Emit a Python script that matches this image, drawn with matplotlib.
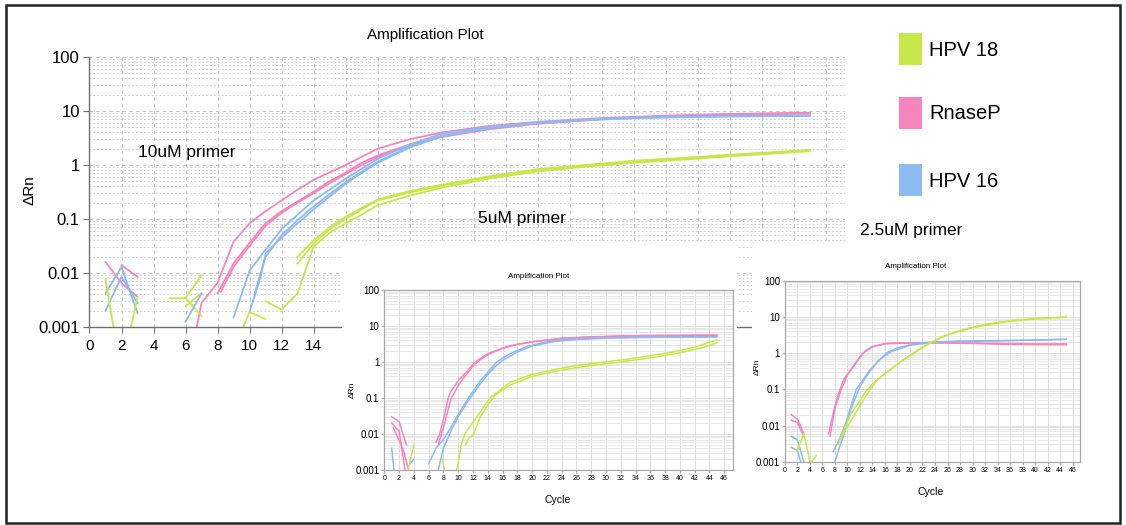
import matplotlib
matplotlib.use("Agg")
import matplotlib.pyplot as plt
from matplotlib.patches import Rectangle
from matplotlib.ticker import FixedLocator, FixedFormatter, LogLocator, NullFormatter

plt.rcParams['font.family'] = ['Liberation Sans', 'DejaVu Sans']

W, H = 1126, 525

GREEN = '#c8e64c'
PINK = '#f785bd'
BLUE = '#8dbaf0'

# ---------------- 10uM primer (large panel) ----------------
rnasep_10_a_cycle = [6.7, 7, 8, 9, 10, 11, 12, 13, 14, 16, 18, 20, 22, 25, 28, 32, 36, 40, 45]
rnasep_10_a_value = [0.001, 0.0028, 0.0066, 0.038, 0.083, 0.14, 0.22, 0.35, 0.53, 1.0, 2.0, 3.0, 4.0, 5.3, 6.3, 7.4, 8.2, 8.8, 9.3]
rnasep_10_b_cycle = [8, 9, 10, 11, 12, 13, 14, 15, 16, 17, 18, 20, 22, 25, 28, 32, 36, 40, 45]
rnasep_10_b_value = [0.0042, 0.015, 0.036, 0.083, 0.14, 0.21, 0.32, 0.5, 0.72, 1.1, 1.5, 2.4, 3.4, 4.8, 5.9, 7.1, 8.0, 8.7, 9.2]
rnasep_10_c_cycle = [8.2, 9, 10, 11, 12, 13, 14, 15, 16, 17, 18, 20, 22, 25, 28, 32, 36, 40, 45]
rnasep_10_c_value = [0.0045, 0.013, 0.032, 0.075, 0.13, 0.2, 0.3, 0.46, 0.68, 1.0, 1.4, 2.3, 3.3, 4.6, 5.8, 7.0, 7.9, 8.5, 9.0]

hpv16_10_a_cycle = [9, 10, 11, 12, 13, 14, 15, 16, 17, 18, 20, 22, 25, 28, 32, 36, 40, 45]
hpv16_10_a_value = [0.0015, 0.011, 0.027, 0.065, 0.12, 0.22, 0.35, 0.56, 0.85, 1.3, 2.4, 3.8, 5.1, 6.2, 7.2, 7.8, 8.1, 8.3]
hpv16_10_b_cycle = [10, 10.7, 11, 12, 13, 14, 15, 16, 17, 18, 20, 22, 25, 28, 32, 36, 40, 45]
hpv16_10_b_value = [0.0019, 0.0086, 0.023, 0.045, 0.083, 0.15, 0.26, 0.45, 0.71, 1.1, 2.1, 3.4, 4.8, 6.0, 7.0, 7.6, 7.9, 8.1]
hpv16_10_c_cycle = [10.3, 11, 12, 13, 14, 15, 16, 17, 18, 20, 22, 25, 28, 32, 36, 40, 45]
hpv16_10_c_value = [0.004, 0.02, 0.05, 0.095, 0.17, 0.29, 0.48, 0.75, 1.15, 2.2, 3.5, 4.9, 6.1, 7.1, 7.7, 8.0, 8.2]

hpv18_10_a_cycle = [13, 14, 15, 16, 17, 18, 20, 22, 25, 28, 31, 34, 37, 40, 43, 45]
hpv18_10_a_value = [0.015, 0.035, 0.065, 0.1, 0.15, 0.22, 0.31, 0.41, 0.6, 0.81, 0.98, 1.15, 1.3, 1.5, 1.7, 1.85]
hpv18_10_b_cycle = [11, 12, 13, 14, 15, 16, 17, 18, 20, 22, 25, 28, 31, 34, 37, 40, 43, 45]
hpv18_10_b_value = [0.003, 0.0021, 0.0042, 0.031, 0.055, 0.083, 0.12, 0.18, 0.27, 0.38, 0.56, 0.76, 0.93, 1.1, 1.25, 1.45, 1.65, 1.8]
hpv18_10_c_cycle = [13, 14, 15, 16, 17, 18, 20, 22, 25, 28, 31, 34, 37, 40, 43, 45]
hpv18_10_c_value = [0.02, 0.04, 0.07, 0.11, 0.16, 0.23, 0.33, 0.43, 0.62, 0.84, 1.0, 1.2, 1.35, 1.55, 1.75, 1.9]

# baseline noise fragments (cycle, value, target)
noise_10 = [
    ([1, 2, 3], [0.016, 0.0065, 0.0036], 'RnaseP'),
    ([2, 3], [0.014, 0.0085], 'RnaseP'),
    ([1, 2, 3], [0.0042, 0.013, 0.0018], 'HPV 16'),
    ([1, 2, 3], [0.002, 0.0085, 0.0028], 'HPV 16'),
    ([1, 1.5], [0.0074, 0.001], 'HPV 18'),
    ([2.6, 3], [0.001, 0.0036], 'HPV 18'),
    ([5, 6, 7], [0.0034, 0.0034, 0.0091], 'HPV 18'),
    ([6, 7], [0.0024, 0.0042], 'HPV 18'),
    ([6, 7], [0.0035, 0.0016], 'HPV 18'),
    ([6, 7], [0.00126, 0.0042], 'HPV 16'),
    ([9.6, 10, 11], [0.001, 0.0019, 0.0014], 'HPV 18'),
]

# ---------------- 5uM primer ----------------
rnasep_5_a_cycle = [7, 7.5, 8, 8.65, 9, 10, 11, 12.3, 14, 16.6, 18, 20.6, 24.7, 28, 32, 36, 40, 45]
rnasep_5_a_value = [0.006, 0.01, 0.025, 0.1, 0.15, 0.3, 0.5, 1.0, 1.7, 2.7, 3.1, 3.8, 4.7, 5.0, 5.3, 5.4, 5.5, 5.6]
rnasep_5_b_cycle = [7.3, 8, 9, 10, 11, 12, 13, 14, 16, 18, 20, 24, 28, 32, 36, 40, 45]
rnasep_5_b_value = [0.005, 0.015, 0.09, 0.22, 0.42, 0.78, 1.15, 1.6, 2.4, 3.1, 3.6, 4.5, 4.9, 5.2, 5.3, 5.4, 5.5]

hpv16_5_a_cycle = [6, 7, 8, 8.45, 9, 10, 11.4, 13, 15.2, 17, 19.3, 22.4, 25, 28, 32, 36, 40, 45]
hpv16_5_a_value = [0.0015, 0.004, 0.007, 0.01, 0.015, 0.035, 0.1, 0.3, 1.0, 1.7, 2.7, 3.8, 4.3, 4.6, 4.8, 4.9, 5.0, 5.0]
hpv16_5_b_cycle = [7.3, 8, 9, 10, 11, 12, 13, 14, 15, 16, 18, 20, 23, 26, 30, 35, 40, 45]
hpv16_5_b_value = [0.001, 0.004, 0.012, 0.03, 0.065, 0.13, 0.25, 0.45, 0.75, 1.1, 1.9, 2.8, 3.7, 4.2, 4.6, 4.8, 4.9, 5.0]

hpv18_5_a_cycle = [9.8, 10.5, 10.9, 12.3, 14.3, 17, 20.1, 24.2, 27, 30.1, 33, 36, 39.1, 42, 45]
hpv18_5_a_value = [0.001, 0.006, 0.01, 0.026, 0.1, 0.27, 0.46, 0.69, 0.85, 1.02, 1.2, 1.5, 1.9, 2.6, 4.1]
hpv18_5_b_cycle = [11, 11.5, 12, 13, 14, 15, 17, 20, 24, 28, 32, 36, 40, 43, 45]
hpv18_5_b_value = [0.005, 0.008, 0.009, 0.03, 0.065, 0.12, 0.23, 0.4, 0.6, 0.8, 1.0, 1.3, 1.8, 2.5, 3.4]

noise_5 = [
    ([1, 2, 3], [0.03, 0.022, 0.005], 'RnaseP'),
    ([1, 2, 2.8], [0.02, 0.012, 0.001], 'RnaseP'),
    ([1.2, 2.5, 3.3], [0.015, 0.004, 0.001], 'RnaseP'),
    ([1, 1.3], [0.004, 0.001], 'HPV 16'),
    ([3.5, 4], [0.0015, 0.002], 'HPV 16'),
    ([3.2, 4], [0.001, 0.005], 'HPV 18'),
    ([7.9, 8.1], [0.002, 0.001], 'HPV 18'),
]

# ---------------- 2.5uM primer ----------------
rnasep_25_a_cycle = [7, 7.5, 8, 8.8, 9.5, 10.9, 12.5, 14, 16.2, 20, 25, 30, 35, 40, 45]
rnasep_25_a_value = [0.006, 0.015, 0.035, 0.1, 0.2, 0.42, 1.0, 1.5, 1.87, 1.95, 1.95, 1.9, 1.85, 1.8, 1.8]
rnasep_25_b_cycle = [7.2, 8, 9, 10, 11, 12, 13, 14, 16, 20, 25, 30, 35, 40, 45]
rnasep_25_b_value = [0.005, 0.03, 0.1, 0.25, 0.45, 0.8, 1.2, 1.5, 1.8, 1.9, 1.9, 1.85, 1.75, 1.7, 1.7]

hpv16_25_a_cycle = [7.7, 8.5, 9.6, 11.4, 13.6, 16.2, 18, 21, 24, 28, 32, 36, 40, 45]
hpv16_25_a_value = [0.0019, 0.0035, 0.01, 0.1, 0.34, 1.0, 1.4, 1.87, 2.05, 2.15, 2.2, 2.25, 2.3, 2.4]
hpv16_25_b_cycle = [8, 8.7, 9.5, 10, 11, 12, 13.5, 15, 17, 20, 24, 28, 32, 36, 40, 45]
hpv16_25_b_value = [0.001, 0.0025, 0.006, 0.015, 0.045, 0.12, 0.3, 0.65, 1.1, 1.65, 2.0, 2.1, 2.15, 2.2, 2.3, 2.4]

hpv18_25_a_cycle = [9, 10.1, 11, 12, 13.6, 15, 16.7, 18.5, 20.5, 23.1, 25.5, 28.4, 32, 36.4, 40, 45]
hpv18_25_a_value = [0.0049, 0.01, 0.018, 0.035, 0.1, 0.2, 0.34, 0.58, 1.0, 1.9, 3.0, 4.4, 6.2, 8.1, 9.0, 10.0]
hpv18_25_b_cycle = [8.5, 9.5, 10.5, 12, 13, 14.5, 16, 18, 20, 23, 26, 30, 35, 40, 45]
hpv18_25_b_value = [0.003, 0.008, 0.02, 0.05, 0.09, 0.17, 0.27, 0.5, 0.85, 1.8, 3.2, 5.0, 7.2, 8.8, 9.8]

noise_25 = [
    ([1, 2, 3], [0.02, 0.015, 0.006], 'RnaseP'),
    ([1, 2, 3], [0.014, 0.012, 0.005], 'RnaseP'),
    ([1, 2, 2.5, 3], [0.005, 0.004, 0.002, 0.001], 'HPV 16'),
    ([1, 2, 2.5], [0.0025, 0.002, 0.001], 'HPV 16'),
    ([2, 3, 4], [0.002, 0.006, 0.001], 'HPV 18'),
    ([4.3, 5], [0.001, 0.0015], 'HPV 18'),
]

legend_labels = ['HPV 18', 'RnaseP', 'HPV 16']
target_colors = {'HPV 18': GREEN, 'RnaseP': PINK, 'HPV 16': BLUE}

decade_ticks = [0.001, 0.01, 0.1, 1, 10, 100]
decade_labels = ['0.001', '0.01', '0.1', '1', '10', '100']
cycle_ticks = list(range(0, 47, 2))
main_cycle_labels = [str(c) if c <= 14 else '' for c in cycle_ticks]
small_cycle_labels = [str(c) for c in cycle_ticks]

panels = {
    '10': [
        (rnasep_10_a_cycle, rnasep_10_a_value, 'RnaseP'),
        (rnasep_10_b_cycle, rnasep_10_b_value, 'RnaseP'),
        (rnasep_10_c_cycle, rnasep_10_c_value, 'RnaseP'),
        (hpv16_10_a_cycle, hpv16_10_a_value, 'HPV 16'),
        (hpv16_10_b_cycle, hpv16_10_b_value, 'HPV 16'),
        (hpv16_10_c_cycle, hpv16_10_c_value, 'HPV 16'),
        (hpv18_10_a_cycle, hpv18_10_a_value, 'HPV 18'),
        (hpv18_10_b_cycle, hpv18_10_b_value, 'HPV 18'),
        (hpv18_10_c_cycle, hpv18_10_c_value, 'HPV 18'),
    ] + noise_10,
    '5': [
        (rnasep_5_a_cycle, rnasep_5_a_value, 'RnaseP'),
        (rnasep_5_b_cycle, rnasep_5_b_value, 'RnaseP'),
        (hpv16_5_a_cycle, hpv16_5_a_value, 'HPV 16'),
        (hpv16_5_b_cycle, hpv16_5_b_value, 'HPV 16'),
        (hpv18_5_a_cycle, hpv18_5_a_value, 'HPV 18'),
        (hpv18_5_b_cycle, hpv18_5_b_value, 'HPV 18'),
    ] + noise_5,
    '2.5': [
        (rnasep_25_a_cycle, rnasep_25_a_value, 'RnaseP'),
        (rnasep_25_b_cycle, rnasep_25_b_value, 'RnaseP'),
        (hpv16_25_a_cycle, hpv16_25_a_value, 'HPV 16'),
        (hpv16_25_b_cycle, hpv16_25_b_value, 'HPV 16'),
        (hpv18_25_a_cycle, hpv18_25_a_value, 'HPV 18'),
        (hpv18_25_b_cycle, hpv18_25_b_value, 'HPV 18'),
    ] + noise_25,
}


def px_axes(fig, left, top, right, bottom, zorder=0):
    return fig.add_axes([left / W, 1 - bottom / H, (right - left) / W, (bottom - top) / H],
                        zorder=zorder)


def fig_text(fig, x, y, s, **kw):
    fig.text(x / W, 1 - y / H, s, **kw)


def draw_curves(ax, curves, lw):
    for cyc, val, target in curves:
        ax.plot(cyc, val, color=target_colors[target], lw=lw, solid_joinstyle='round',
                clip_on=True)


fig = plt.figure(figsize=(W / 100, H / 100), dpi=100)
fig.patch.set_facecolor('white')

# ---------- large panel ----------
ax = px_axes(fig, 89.5, 57, 845, 327, zorder=0)
ax.set_yscale('log')
ax.set_xlim(0, 47.2)
ax.set_ylim(0.001, 100)
ax.xaxis.set_major_locator(FixedLocator(cycle_ticks))
ax.xaxis.set_major_formatter(FixedFormatter(main_cycle_labels))
ax.yaxis.set_major_locator(FixedLocator(decade_ticks))
ax.yaxis.set_major_formatter(FixedFormatter(decade_labels))
ax.yaxis.set_minor_locator(LogLocator(base=10, subs=range(2, 10)))
ax.yaxis.set_minor_formatter(NullFormatter())
ax.grid(True, which='major', axis='both', color='#c4c4c4', lw=0.8, ls=(0, (3, 3)))
ax.grid(True, which='minor', axis='y', color='#cfcfcf', lw=0.8, ls=(0, (1.5, 2)))
ax.set_axisbelow(True)
for s in ('top', 'right'):
    ax.spines[s].set_visible(False)
for s in ('left', 'bottom'):
    ax.spines[s].set_color('#707070')
    ax.spines[s].set_linewidth(1.0)
ax.tick_params(axis='both', which='major', length=4, color='#707070', labelsize=12, pad=3)
ax.tick_params(axis='y', which='minor', length=0)
ax.tick_params(axis='x', labelsize=11, pad=5)
draw_curves(ax, panels['10'], 1.3)

fig_text(fig, 30, 190, 'ΔRn', ha='center', va='center', fontsize=11, rotation=90)
fig_text(fig, 425, 35, 'Amplification Plot', ha='center', va='center', fontsize=11)
fig_text(fig, 187, 152, '10uM primer', ha='center', va='center', fontsize=12.5)
fig_text(fig, 522, 218, '5uM primer', ha='center', va='center', fontsize=12.5)
fig_text(fig, 911, 231, '2.5uM primer', ha='center', va='center', fontsize=12.5)

# legend swatches
for label, yc in zip(legend_labels, [49, 113, 180]):
    fig.patches.append(Rectangle((899 / W, 1 - (yc + 16) / H), 23 / W, 32 / H,
                                 transform=fig.transFigure, facecolor=target_colors[label],
                                 edgecolor='none', zorder=1))
    fig_text(fig, 929, yc + 1, label, ha='left', va='center', fontsize=14.5)

# white backing behind the two smaller panels
for (l, t, r, b) in [(342, 241, 737, 521), (752, 243, 1118, 521)]:
    fig.patches.append(Rectangle((l / W, 1 - b / H), (r - l) / W, (b - t) / H,
                                 transform=fig.transFigure, facecolor='white',
                                 edgecolor='none', zorder=1))


def small_panel(left, top, right, bottom, curves, title_xy, cycle_xy, drn_xy):
    a = px_axes(fig, left, top, right, bottom, zorder=2)
    a.set_yscale('log')
    a.set_xlim(0, 47.2)
    a.set_ylim(0.001, 100)
    a.xaxis.set_major_locator(FixedLocator(cycle_ticks))
    a.xaxis.set_major_formatter(FixedFormatter(small_cycle_labels))
    a.yaxis.set_major_locator(FixedLocator(decade_ticks))
    a.yaxis.set_major_formatter(FixedFormatter(decade_labels))
    a.yaxis.set_minor_locator(LogLocator(base=10, subs=range(2, 10)))
    a.yaxis.set_minor_formatter(NullFormatter())
    a.grid(True, which='major', axis='both', color='#d9d9d9', lw=0.6)
    a.grid(True, which='minor', axis='y', color='#e4e4e4', lw=0.6)
    a.set_axisbelow(True)
    for s in a.spines.values():
        s.set_color('#a8a8a8')
        s.set_linewidth(0.9)
    a.tick_params(axis='both', which='major', length=2, color='#a8a8a8', pad=1.5)
    a.tick_params(axis='y', which='minor', length=0)
    a.tick_params(axis='x', labelsize=5)
    a.tick_params(axis='y', labelsize=7)
    draw_curves(a, curves, 1.1)
    fig_text(fig, title_xy[0], title_xy[1], 'Amplification Plot', ha='center', va='center',
             fontsize=5.8)
    fig_text(fig, cycle_xy[0], cycle_xy[1], 'Cycle', ha='center', va='center', fontsize=7.5)
    fig_text(fig, drn_xy[0], drn_xy[1], 'ΔRn', ha='center', va='center', fontsize=6,
             rotation=90)
    return a


small_panel(384.3, 290, 733.1, 470, panels['5'], (539, 276), (558, 500), (352, 390))
small_panel(785, 280.7, 1080, 461.7, panels['2.5'], (916, 266), (931, 492), (757, 367))

# outer frame
fig.patches.append(Rectangle((6 / W, 1 - 523 / H), (1120 - 6) / W, (523 - 5) / H,
                             transform=fig.transFigure, facecolor='none',
                             edgecolor='#222222', lw=1.8, zorder=5))

fig.savefig('out.png', dpi=100, facecolor='white')
